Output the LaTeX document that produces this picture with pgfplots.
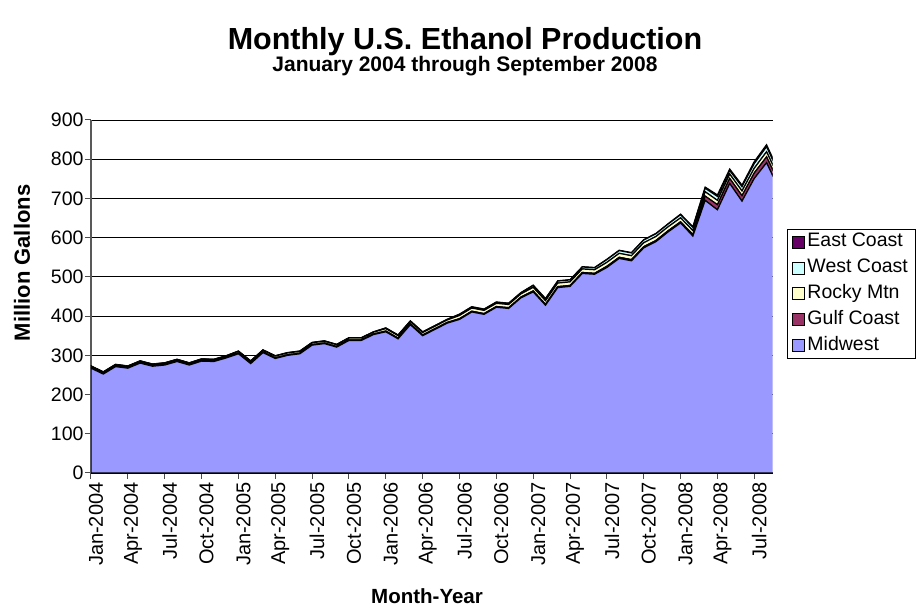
\documentclass[border=0pt]{standalone}
\usepackage{fontspec}
\setmainfont{Liberation Sans}
\usepackage{pgfplots}
\usepackage{pgfplotstable}
\pgfplotsset{compat=1.18}
\definecolor{mwc}{HTML}{9999FF}
\definecolor{gcc}{HTML}{993366}
\definecolor{rmc}{HTML}{FFFFCC}
\definecolor{wcc}{HTML}{CCFFFF}
\definecolor{ecc}{HTML}{660066}
\pgfplotstableread{
i mw gc rm wc ec
0 267.2 1.5 3.5 0.5 0.3
1 252.2 1.5 3.5 0.5 0.3
2 271.2 1.5 3.5 0.5 0.3
3 267.2 1.5 3.5 0.5 0.3
4 280.2 1.5 3.5 0.5 0.3
5 272.2 1.5 3.5 0.5 0.3
6 275.2 1.5 3.5 0.5 0.3
7 284.2 1.5 3.5 0.5 0.3
8 275.2 1.5 3.5 0.5 0.3
9 285.2 1.5 3.5 0.5 0.3
10 284.2 1.5 3.5 0.5 0.3
11 293.2 1.5 3.5 0.5 0.3
12 303.9 1.5 4.5 0.8 0.3
13 278.9 1.5 4.5 0.8 0.3
14 306.9 1.5 4.5 0.8 0.3
15 291.9 1.5 4.5 0.8 0.3
16 299.9 1.5 4.5 0.8 0.3
17 303.9 1.5 4.5 0.8 0.3
18 325.9 1.5 4.5 0.8 0.3
19 329.9 1.5 4.5 0.8 0.3
20 320.9 1.5 4.5 0.8 0.3
21 337.9 1.5 4.5 0.8 0.3
22 337.9 1.5 4.5 0.8 0.3
23 352.9 1.5 4.5 0.8 0.3
24 360.0 2 6 1.5 0.5
25 342.0 2 6 1.5 0.5
26 378.0 2 6 1.5 0.5
27 350.0 2 6 1.5 0.5
28 366.0 2 6 1.5 0.5
29 382.0 2 6 1.5 0.5
30 391.5 2 8 3 0.5
31 410.5 2 8 3 0.5
32 404.5 2 8 3 0.5
33 422.5 2 8 3 0.5
34 419.5 2 8 3 0.5
35 446.5 2 8 3 0.5
36 461.7 2.5 9 5 0.8
37 427.7 2.5 9 5 0.8
38 472.7 2.5 9 5 0.8
39 475.7 2.5 9 5 0.8
40 508.7 2.5 9 5 0.8
41 506.7 2.5 9 5 0.8
42 524.0 3 10 7 1
43 547.0 3 10 7 1
44 541.0 3 10 7 1
45 574.0 3 10 7 1
46 590.0 3 10 7 1
47 615.0 3 10 7 1
48 637.5 3 10 8 1.5
49 604.0 4 10 8 2
50 695.0 11 11 9 3
51 671.0 13 11 10 4
52 738.0 13 11 9 4
53 693.0 14 12 11 4
54 751.0 14 12 12 5
55 791.0 15 13 13 5
56 725.0 15 12 12 5
}\data
\begin{document}
\begin{tikzpicture}
\useasboundingbox (0pt,0pt) rectangle (922pt,609pt);
\begin{axis}[
  at={(91pt,136pt)}, anchor=south west,
  scale only axis, width=681.7pt, height=353pt,
  clip mode=individual,
  xmin=0, xmax=55.5, ymin=0, ymax=900,
  ytick={0,100,...,900},
  xtick={0,3,...,54},
  xticklabels={Jan-2004,Apr-2004,Jul-2004,Oct-2004,Jan-2005,Apr-2005,Jul-2005,Oct-2005,Jan-2006,Apr-2006,Jul-2006,Oct-2006,Jan-2007,Apr-2007,Jul-2007,Oct-2007,Jan-2008,Apr-2008,Jul-2008},
  axis x line*=bottom, axis y line*=left,
  x axis line style={-, black, line width=1.3pt},
  y axis line style={-, black!65, line width=1.5pt},
  tick align=outside, major tick length=6pt,
  tick style={black!70, line width=1pt},
  ymajorgrids, grid style={black, line width=0.8pt},
  /pgf/number format/assume math mode=true,
  ticklabel style={font=\fontsize{19.5}{21}\selectfont},
  yticklabel style={xshift=2pt},
  xticklabel style={rotate=90, anchor=east, yshift=-5pt, font=\fontsize{20}{21}\selectfont},
  stack plots=y,
  title={Monthly U.S. Ethanol Production},
  title style={at={(axis description cs:0.5486,1.1841)}, anchor=base, font=\bfseries\fontsize{30.5}{32}\selectfont, inner sep=0pt},
  xlabel={Month-Year},
  xlabel style={at={(axis description cs:0.4929,-0.3484)}, anchor=center, font=\bfseries\fontsize{20.5}{22}\selectfont},
  ylabel={Million Gallons},
  ylabel style={at={(axis description cs:-0.1012,0.595)}, anchor=center, rotate=0, font=\bfseries\fontsize{22}{23}\selectfont},
  reverse legend,
  legend cell align=left,
  legend style={at={(axis description cs:1.0214,0.6912)}, anchor=north west,
    draw=black, line width=0.8pt, font=\fontsize{19.5}{21}\selectfont,
    inner xsep=4pt, inner ysep=2pt, row sep=4.3pt,
    nodes={inner sep=2pt, inner xsep=3pt, text height=13.5pt, text depth=4pt}},
  legend image code/.code={\draw[#1,draw=black,line width=0.8pt] (0pt,-6pt) rectangle (12pt,6pt);},
]
\addplot[fill=mwc, draw=black, line width=1.2pt] table[x=i,y=mw]{\data} \closedcycle;
\addplot[fill=gcc, draw=black, line width=1.2pt] table[x=i,y=gc]{\data} \closedcycle;
\addplot[fill=rmc, draw=black, line width=1.2pt] table[x=i,y=rm]{\data} \closedcycle;
\addplot[fill=wcc, draw=black, line width=1.2pt] table[x=i,y=wc]{\data} \closedcycle;
\addplot[fill=ecc, draw=black, line width=1.2pt] table[x=i,y=ec]{\data} \closedcycle;
\legend{Midwest,Gulf Coast,Rocky Mtn,West Coast,East Coast}
\node[anchor=base, font=\bfseries\fontsize{21}{23}\selectfont, inner sep=0pt] at (axis description cs:0.5486,1.136) {January 2004 through September 2008};
\end{axis}
\end{tikzpicture}
\end{document}
